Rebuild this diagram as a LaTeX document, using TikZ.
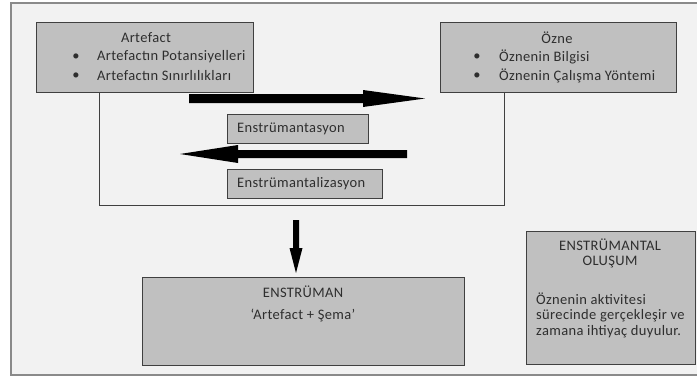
\documentclass[tikz,border=0pt]{standalone}
\usepackage{fontspec}
\setmainfont{Carlito}[LetterSpace=2.5]
\usetikzlibrary{calc}
\definecolor{pagebg}{HTML}{F2F2F2}
\definecolor{boxfill}{HTML}{C0C0C0}
\definecolor{boxline}{HTML}{404040}
\definecolor{framecol}{HTML}{8A8A8A}
\definecolor{inkcol}{HTML}{2E2E2E}
\tikzset{
  box/.style={draw=boxline, line width=1.1pt, fill=boxfill, anchor=north west, inner sep=0pt},
  txt/.style={text=inkcol, font=\fontsize{14.5}{16}\selectfont, inner sep=0pt},
  link/.style={draw=boxline, line width=0.9pt},
  bigarrow/.style={fill=black, draw=none},
}
\begin{document}
\begin{tikzpicture}[x=1pt, y=-1pt]
\useasboundingbox (0,0) rectangle (697,378);
\fill[white] (0,0) rectangle (697,378);
% outer frame
\draw[framecol, line width=1.6pt, fill=pagebg] (11,3) rectangle (702,375);

% the two top boxes and the line joining them underneath
\node[box, minimum width=217pt, minimum height=70pt] (art) at (36,22) {};
\node[box, minimum width=236pt, minimum height=70pt] (ozne) at (440,22) {};
\coordinate (joinY) at (0,205);
\draw[link] ([xshift=63pt]art.south west) |- (joinY -| {$(ozne.south west)+(64,0)$}) -- ([xshift=64pt]ozne.south west);

% Artefact contents
\node[txt] (artT) at (146,38) {Artefact};
\node[txt] (artB1) at (76,57) {•};
\node[txt, anchor=west] (artL1) at (97,57) {Artefactın Potansiyelleri};
\node[txt] (artB2) at (76,76) {•};
\node[txt, anchor=west] (artL2) at (97,76) {Artefactın Sınırlılıkları};

% Özne contents
\node[txt] (ozT) at (557,38) {Özne};
\node[txt] (ozB1) at (477,57) {•};
\node[txt, anchor=west] (ozL1) at (499,57) {Öznenin Bilgisi};
\node[txt] (ozB2) at (477,76) {•};
\node[txt, anchor=west] (ozL2) at (499,76) {Öznenin Çalışma Yöntemi};

% thick arrow to the right
\coordinate (ra1) at (189,98.5);
\coordinate (ra2) at (425,98.5);
\fill[bigarrow] (ra1) ++(0,-4.5) -- (363,94) -- (363,90) -- (ra2) -- (363,107) -- (363,103) -- ($(ra1)+(0,4.5)$) -- cycle;

\node[box, minimum width=141pt, minimum height=29pt] (ins) at (227,114) {};
\node[txt, anchor=west] (insT) at (237,128.5) {Enstrümantasyon};

% thick arrow to the left
\coordinate (la1) at (407,154);
\coordinate (la2) at (180,154);
\fill[bigarrow] (la1) ++(0,-4) -- (238,150) -- (238,145) -- (la2) -- (238,163) -- (238,158) -- ($(la1)+(0,4)$) -- cycle;

\node[box, minimum width=155pt, minimum height=29pt] (inz) at (227,169) {};
\node[txt, anchor=west] (inzT) at (237,183.5) {Enstrümantalizasyon};

% ENSTRÜMAN box
\node[box, minimum width=322pt, minimum height=88pt] (ens) at (142,277) {};
\node[txt] (ensT) at (303,292) {ENSTRÜMAN};
\node[txt] (ensS) at (303,315) {‘Artefact + Şema’};

% arrow down into the ENSTRÜMAN box
\coordinate (da1) at (296,220);
\coordinate (da2) at (296,273);
\fill[bigarrow] (da1) ++(-3,0) -- (293,248) -- (289.5,248) -- (da2) -- (302.5,248) -- (299,248) -- ($(da1)+(3,0)$) -- cycle;

% ENSTRÜMANTAL OLUŞUM box
\node[box, minimum width=169pt, minimum height=133pt] (olu) at (526,231) {};
\node[txt] (oluT1) at (610,245) {ENSTRÜMANTAL};
\node[txt] (oluT2) at (610,262) {OLUŞUM};
\node[txt, anchor=west] (oluL1) at (536,299) {Öznenin aktivitesi};
\node[txt, anchor=west] (oluL2) at (536,315.5) {sürecinde gerçekleşir ve};
\node[txt, anchor=west] (oluL3) at (536,332) {zamana ihtiyaç duyulur.};
\end{tikzpicture}
\end{document}
